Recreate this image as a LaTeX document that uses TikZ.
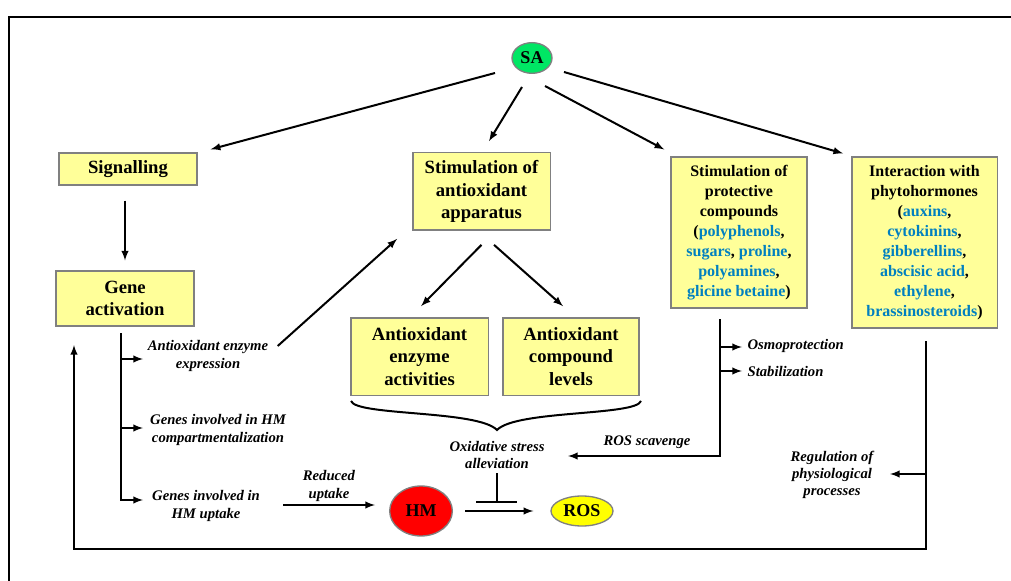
\documentclass[tikz,border=0pt]{standalone}
\usepackage{fontspec}
\setmainfont{Liberation Serif}
\usepackage{xcolor}
\usetikzlibrary{shapes.geometric,calc}
\definecolor{boxyellow}{RGB}{255,255,153}
\definecolor{edgegray}{RGB}{128,128,128}
\definecolor{sagreen}{RGB}{0,230,100}
\definecolor{hmred}{RGB}{255,0,0}
\definecolor{rosyellow}{RGB}{255,255,0}
\definecolor{hblue}{RGB}{0,128,192}
\newcommand{\hb}[1]{\textcolor{hblue}{#1}}

\begin{document}
\begin{tikzpicture}[x=0.75pt, y=-0.75pt, >=latex,
        box/.style={draw=edgegray, line width=1pt, fill=boxyellow, align=center, inner sep=1pt, font=\bfseries\fontsize{14}{17}\selectfont},
        smallbox/.style={box, font=\bfseries\fontsize{12}{15}\selectfont},
        blob/.style={draw=edgegray, line width=1pt, ellipse, inner sep=0pt, font=\bfseries\fontsize{13.5}{16}\selectfont},
        note/.style={align=center, inner sep=1pt, font=\bfseries\itshape\fontsize{11}{13}\selectfont},
        link/.style={line width=1.5pt}]
    \useasboundingbox (0,0) rectangle (1011,581);
    \draw[line width=1.2pt] (9,581) -- (9,17) -- (1011,17);

    \node[blob, fill=sagreen, minimum width=30pt, minimum height=23pt] (sa) at (532,58) {SA};
    \node[box, minimum width=103.5pt, minimum height=24pt] (sig) at (128,169) {Signalling};
    \node[box, minimum width=103.5pt, minimum height=41pt] (gene) at (125,298.5) {Gene\\activation};
    \node[box, minimum width=103pt, minimum height=58pt] (stim) at (481.5,191.5) {Stimulation of\\antioxidant\\apparatus};
    \node[smallbox, minimum width=102pt, minimum height=113pt] (prot) at (739,232.5) {Stimulation of\\protective\\compounds\\(\hb{polyphenols},\\\hb{sugars}, \hb{proline},\\\hb{polyamines},\\\hb{glicine betaine})};
    \node[smallbox, minimum width=109pt, minimum height=128pt] (phyto) at (924.5,242.5) {Interaction with\\phytohormones\\(\hb{auxins},\\\hb{cytokinins},\\\hb{gibberellins},\\\hb{abscisic acid},\\\hb{ethylene},\\\hb{brassinosteroids})};
    \node[box, minimum width=103pt, minimum height=58pt] (aea) at (419.5,356.5) {Antioxidant\\enzyme\\activities};
    \node[box, minimum width=102pt, minimum height=58pt] (acl) at (571,356.5) {Antioxidant\\compound\\levels};
    \node[blob, fill=hmred, minimum width=47pt, minimum height=37.5pt] (hm) at (421,511) {HM};
    \node[blob, fill=rosyellow, minimum width=46.5pt, minimum height=22.5pt] (ros) at (582,511) {ROS};

    \node[note] (expr) at (208,356) {Antioxidant enzyme\\expression};
    \node[note] (comp) at (218,430) {Genes involved in HM\\compartmentalization};
    \node[note] (upt) at (206,506) {Genes involved in\\HM uptake};
    \node[note] (red) at (329,486) {Reduced\\uptake};
    \node[note] (ox) at (497,455) {Oxidative stress\\alleviation};
    \node[note] (scav) at (647,442) {ROS scavenge};
    \node[note, anchor=west] (osmo) at (746,346) {Osmoprotection};
    \node[note, anchor=west] (stab) at (746,371) {Stabilization};
    \node[note] (reg) at (832,475) {Regulation of\\physiological\\processes};

    \coordinate (gtop) at (121,333);
    \coordinate (t1) at (143,359);
    \coordinate (t2) at (143,428);
    \coordinate (t3) at (143,500);
    \coordinate (ptop) at (720,319);
    \coordinate (sc) at (568,456);
    \coordinate (o1) at (742,347);
    \coordinate (o2) at (742,371);
    \coordinate (ftop) at (926,341);
    \coordinate (fbot) at (926,549);
    \coordinate (gback) at (74,345);
    \coordinate (rg) at (890,474);
    \coordinate (inh) at (497,502);

    \draw[link,->] ($(sa)+(-37,15)$) -- ($(sig.north east)+(13,-3)$);
    \draw[link,->] ($(sa)+(-10,29)$) -- ($(stim.north)+(7.5,-11)$);
    \draw[link,->] ($(sa)+(13,28)$) -- ($(prot.north west)+(-6,-7)$);
    \draw[link,->] ($(sa)+(32,14)$) -- ($(phyto.north west)+(-8,-3)$);
    \draw[link,->] ($(sig.south)+(-3,15)$) -- ($(gene.north)+(0,-10)$);
    \draw[link,->] ($(stim.south)+(0,14)$) -- ($(aea.north)+(1.5,-11)$);
    \draw[link,->] ($(stim.south)+(12.5,14)$) -- ($(acl.north)+(-8,-11)$);
    \draw[link,->] ($(expr.east)+(8,-10)$) -- ($(stim.south west)+(-15,8)$);

    \draw[link,->] (gtop) |- (t3);
    \draw[link,->] (gtop |- t1) -- (t1);
    \draw[link,->] (gtop |- t2) -- (t2);
    \draw[link,->] ($(upt.east)+(22,-1)$) -- ($(hm.west)+(-14,-6)$);
    \draw[link,->] ($(hm.east)+(12,0)$) -- ($(ros.west)+(-17,0)$);

    \draw[link] (351,401) .. controls (356,416) and (478,410) .. (497,430) .. controls (516,410) and (636,416) .. (641,401);
    \draw[link] ($(ox.south)+(0,3)$) -- (inh);
    \draw[link] ($(inh)+(-21,0)$) -- ($(inh)+(20,0)$);

    \draw[link,->] (ptop) |- (sc);
    \draw[link,->] (ptop |- o1) -- (o1);
    \draw[link,->] (ptop |- o2) -- (o2);

    \draw[link,->] (ftop) -- (fbot) -| (gback);
    \draw[link,->] (ftop |- rg) -- (rg);
\end{tikzpicture}
\end{document}
